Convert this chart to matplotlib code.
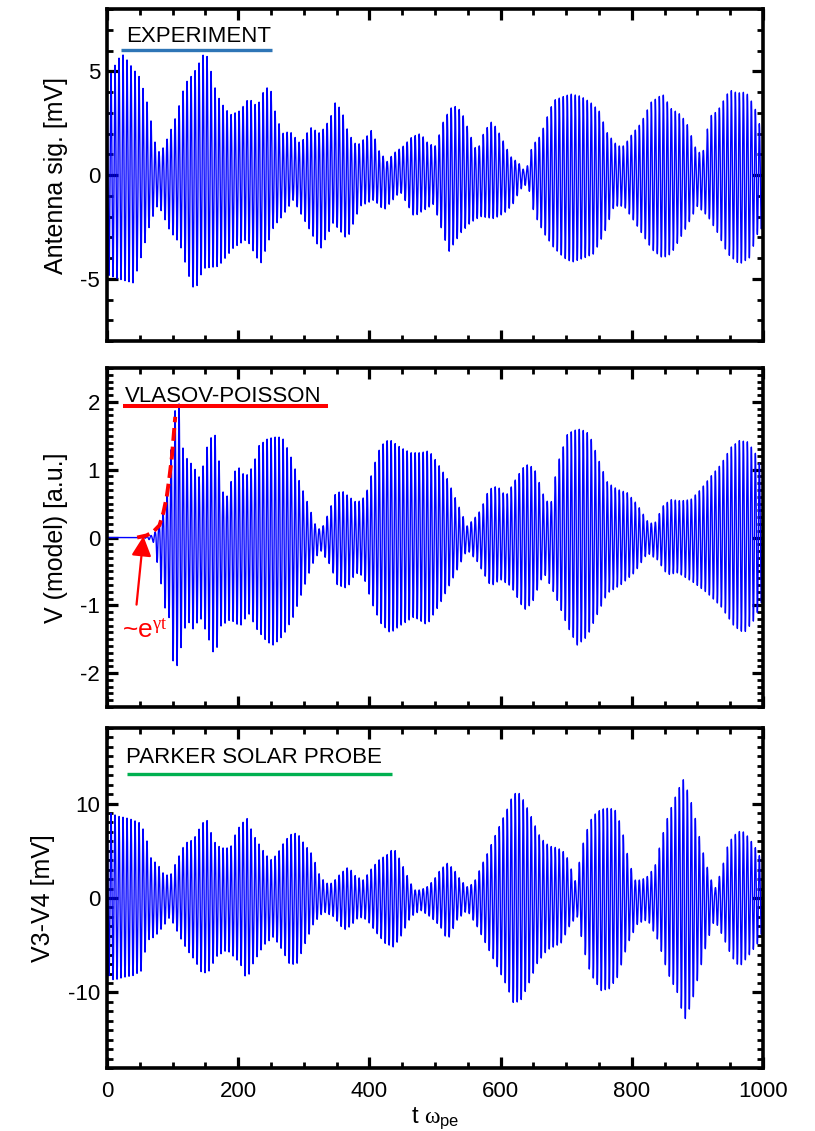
import numpy as np
import matplotlib
matplotlib.use('Agg')
import matplotlib.pyplot as plt
from matplotlib.ticker import MultipleLocator

plt.rcParams['font.family'] = 'Liberation Sans'
plt.rcParams['axes.unicode_minus'] = False
plt.rcParams['mathtext.fontset'] = 'custom'
plt.rcParams['mathtext.rm'] = 'Liberation Sans'
plt.rcParams['mathtext.it'] = 'Liberation Serif'

####################################################################
# envelope peaks (t in units of 1/w_pe)
omega = 1.03   # carrier, one wave every ~6.1 t-units

# experiment (antenna signal, mV)
exp_up_t = [0, 17, 25, 38, 50, 63, 73, 81, 94, 106, 119, 132, 142, 150, 157, 167, 178, 188, 203, 216,
            229, 241, 249, 256, 267, 279, 295, 310, 325, 340, 348, 358, 368, 381, 397, 404, 414, 427, 437, 452,
            465, 478, 490, 501, 514, 526, 534, 544, 554, 564, 575, 587, 600, 615, 630, 638, 648, 661, 671, 681,
            697, 707, 722, 737, 750, 763, 778, 788, 801, 814, 829, 847, 860, 875, 885, 900, 910, 918, 931, 949,
            961, 974, 987, 995, 1000]
exp_up_v = [4.5, 5.6, 5.8, 5.2, 4.7, 3.3, 1.6, 1.0, 1.9, 2.9, 4.4, 4.9, 5.5, 6.0, 5.2, 3.9, 3.3, 2.9, 3.1, 3.7,
            3.3, 4.2, 4.2, 3.1, 2.0, 2.1, 1.5, 2.3, 2.0, 2.7, 3.5, 3.1, 2.0, 1.4, 1.9, 2.2, 1.2, 0.65, 1.05, 1.4,
            1.85, 2.0, 1.5, 1.4, 2.7, 3.3, 3.3, 2.8, 1.9, 1.1, 2.1, 2.6, 1.9, 0.9, 0.5, 0.1, 1.4, 1.9, 2.8, 3.6,
            3.8, 3.9, 3.8, 3.5, 3.1, 2.0, 1.4, 1.4, 2.0, 2.5, 3.5, 3.9, 3.2, 2.9, 2.4, 1.05, 1.2, 2.8, 3.1, 4.1,
            3.95, 4.0, 3.3, 2.4, 2.2]
exp_lo_t = [0, 17, 40, 50, 66, 78, 96, 111, 127, 134, 147, 170, 193, 213, 234, 254, 267, 284, 310, 325,
            345, 366, 386, 407, 422, 447, 468, 498, 521, 539, 554, 569, 590, 605, 618, 630, 641, 651, 666, 681,
            697, 709, 727, 742, 758, 773, 788, 803, 819, 831, 847, 860, 880, 900, 916, 931, 946, 964, 979, 992,
            1000]
exp_lo_v = [-4.8, -5.0, -5.2, -4.2, -2.3, -1.4, -2.7, -3.3, -5.1, -5.6, -4.5, -4.4, -3.5, -3.1, -4.3, -2.5, -2.0, -1.2, -2.7, -3.6,
            -2.3, -3.1, -1.5, -1.2, -1.7, -0.8, -2.0, -1.4, -3.7, -2.8, -2.3, -2.0, -2.1, -1.85, -1.45, -0.7, -0.4, -1.85, -2.8, -3.5,
            -4.0, -4.2, -4.0, -3.8, -2.8, -1.5, -1.5, -2.2, -3.0, -3.6, -4.0, -3.8, -2.7, -1.5, -2.0, -2.8, -3.8, -4.3, -4.0, -2.8,
            -2.5]

# vlasov-poisson model (a.u.)
vp_up_t = [0, 55, 71, 78, 86, 94, 101, 106, 111, 116, 124, 132, 139, 147, 155, 167, 175, 183, 193, 201,
           211, 223, 231, 244, 254, 267, 279, 292, 302, 313, 320, 328, 338, 348, 358, 368, 381, 394, 407, 417,
           430, 447, 463, 478, 491, 503, 519, 534, 549, 559, 570, 582, 595, 608, 626, 638, 651, 666, 676, 686,
           702, 712, 722, 735, 750, 763, 778, 793, 808, 824, 834, 847, 859, 875, 890, 905, 921, 936, 951, 964,
           977, 989, 1000]
vp_up_v = [0, 0, 0.04, 0.17, 0.37, 0.8, 1.75, 1.97, 1.97, 1.3, 1.12, 1.07, 0.86, 1.07, 1.45, 1.52, 0.69, 0.61, 0.96, 1.03,
           0.89, 1.06, 1.35, 1.45, 1.48, 1.48, 1.23, 0.86, 0.61, 0.32, 0.12, 0.14, 0.37, 0.64, 0.69, 0.61, 0.51, 0.61, 1.06, 1.35,
           1.45, 1.33, 1.25, 1.25, 1.28, 1.11, 0.86, 0.51, 0.17, 0.27, 0.41, 0.71, 0.76, 0.61, 0.91, 1.08, 1.03, 0.61, 0.46, 1.06,
           1.53, 1.58, 1.6, 1.53, 1.13, 0.81, 0.71, 0.66, 0.49, 0.24, 0.19, 0.46, 0.56, 0.54, 0.56, 0.71, 0.91, 1.08, 1.33, 1.43,
           1.41, 1.23, 0.95]
vp_lo_t = [0, 55, 70, 81, 89, 96, 101, 109, 114, 122, 132, 142, 152, 165, 173, 188, 203, 216, 229, 244,
           254, 269, 284, 297, 312, 325, 341, 351, 366, 379, 391, 404, 417, 432, 447, 468, 488, 508, 529, 549,
           564, 585, 600, 616, 636, 648, 666, 684, 702, 717, 732, 748, 763, 783, 804, 824, 839, 854, 870, 895,
           915, 936, 956, 971, 987, 1000]
vp_lo_v = [0, 0, -0.05, -0.6, -1.07, -1.21, -1.86, -1.9, -1.54, -1.21, -1.36, -1.17, -1.41, -1.78, -1.31, -1.21, -1.31, -1.12, -1.36, -1.54,
           -1.59, -1.44, -1.17, -0.82, -0.42, -0.18, -0.42, -0.7, -0.75, -0.52, -0.57, -0.97, -1.26, -1.41, -1.3, -1.17, -1.29, -0.97, -0.57, -0.18,
           -0.35, -0.72, -0.62, -0.72, -1.07, -0.97, -0.52, -0.87, -1.31, -1.59, -1.46, -1.12, -0.82, -0.7, -0.52, -0.23, -0.33, -0.55, -0.52, -0.67,
           -0.82, -1.02, -1.31, -1.41, -1.21, -0.9]

# exponential growth guide
gr_t = [46, 60, 70, 80, 86, 91, 95, 99, 102, 104]
gr_v = [0.0, 0.03, 0.08, 0.18, 0.37, 0.6, 0.88, 1.2, 1.55, 1.78]

# parker solar probe (V3-V4, mV)
psp_up_t = [0, 5, 17, 28, 38, 50, 58, 68, 76, 86, 96, 106, 119, 132, 145, 152, 163, 173, 188, 198,
            213, 223, 239, 249, 259, 269, 279, 290, 300, 313, 323, 333, 343, 356, 368, 379, 391, 402, 414, 427,
            437, 447, 458, 468, 478, 488, 498, 508, 519, 529, 539, 549, 559, 570, 580, 590, 600, 610, 618, 626,
            633, 643, 651, 661, 674, 687, 699, 710, 715, 722, 730, 740, 753, 763, 774, 784, 794, 804, 814, 824,
            835, 845, 855, 868, 878, 888, 896, 906, 916, 926, 937, 947, 957, 967, 977, 987, 995, 1000]
psp_up_v = [8.0, 9.0, 8.65, 8.5, 8.3, 7.95, 6.9, 4.0, 3.7, 2.6, 2.3, 3.9, 5.8, 6.2, 7.9, 8.3, 6.0, 5.3, 5.3, 7.2,
            8.5, 6.7, 4.9, 4.0, 4.6, 5.8, 6.7, 6.9, 5.8, 4.6, 2.6, 1.56, 1.56, 2.6, 3.3, 2.3, 1.9, 3.0, 4.0, 4.6,
            5.3, 4.0, 2.3, 0.85, 0.85, 1.2, 1.9, 3.0, 3.7, 3.0, 1.9, 1.2, 1.56, 3.3, 4.75, 6.35, 7.9, 9.4, 10.8, 11.3,
            10.6, 9.2, 7.9, 6.35, 5.5, 5.3, 4.75, 2.6, 1.56, 4.75, 6.9, 8.65, 9.4, 9.5, 9.4, 7.6, 4.4, 1.9, 1.9, 2.3,
            3.3, 6.2, 8.65, 11.0, 12.6, 10.8, 8.65, 5.5, 3.0, 0.85, 3.0, 5.8, 6.7, 7.2, 6.5, 5.5, 4.4, 3.0]
psp_lo_t = [0, 10, 25, 40, 53, 61, 73, 86, 96, 111, 122, 134, 145, 155, 167, 183, 203, 213, 223, 239,
            254, 267, 279, 290, 302, 315, 330, 346, 361, 371, 384, 396, 412, 424, 437, 447, 463, 478, 493, 508,
            519, 534, 549, 564, 580, 595, 610, 620, 631, 641, 656, 671, 692, 707, 717, 727, 737, 753, 766, 778,
            794, 809, 824, 840, 855, 870, 880, 891, 901, 914, 926, 939, 952, 964, 977, 992, 1000]
psp_lo_v = [-8.0, -8.7, -8.4, -8.2, -7.7, -4.5, -4.1, -3.0, -2.0, -4.1, -5.5, -6.6, -8.0, -7.8, -6.2, -5.5, -6.9, -8.7, -6.9, -5.0,
            -4.1, -5.5, -7.1, -6.9, -4.8, -2.7, -1.45, -2.0, -3.4, -3.0, -2.0, -2.3, -3.8, -4.8, -5.2, -4.2, -2.0, -1.3, -2.0, -3.0,
            -4.5, -2.3, -1.3, -3.0, -5.2, -7.3, -9.4, -11.2, -10.8, -9.4, -6.9, -5.5, -4.8, -2.7, -2.0, -5.5, -8.0, -9.8, -9.6, -8.4,
            -4.8, -2.7, -2.3, -4.5, -8.0, -10.1, -13.0, -11.2, -8.4, -4.8, -2.3, -4.1, -6.2, -7.3, -6.2, -4.8, -3.4]

####################################################################
t = np.linspace(0, 1000, 40001)
carrier = np.cos(omega * t)

def trace(up_t, up_v, lo_t, lo_v):
    up = np.interp(t, up_t, up_v)
    lo = -np.interp(t, lo_t, lo_v)
    return carrier * np.where(carrier >= 0, up, lo)

def style(ax, ylim, major, minor):
    ax.set_xlim(0, 1000)
    ax.set_ylim(ylim)
    ax.xaxis.set_major_locator(MultipleLocator(200))
    ax.xaxis.set_minor_locator(MultipleLocator(50))
    ax.yaxis.set_major_locator(MultipleLocator(major))
    ax.yaxis.set_minor_locator(MultipleLocator(minor))
    for sp in ax.spines.values():
        sp.set_linewidth(2.6)
    ax.tick_params(which='both', direction='in', top=True, right=True, labelsize=16)
    ax.tick_params(which='major', length=8, width=2.3)
    ax.tick_params(which='minor', length=4, width=2.0)
    ax.tick_params(axis='y', pad=5)
    ax.tick_params(axis='x', pad=9)

fig = plt.figure(figsize=(8.15, 11.31), dpi=100)
left, width = 0.1313, 0.805
ax1 = fig.add_axes([left, 0.6985, width, 0.2935])
ax2 = fig.add_axes([left, 0.3749, width, 0.2997])
ax3 = fig.add_axes([left, 0.0557, width, 0.3006])

sig_lw = 1.0

#########################  experiment  #############################
ax1.plot(t, trace(exp_up_t, exp_up_v, exp_lo_t, exp_lo_v), color='#0000ff', lw=sig_lw)
style(ax1, (-8, 8), 5, 1)
ax1.tick_params(labelbottom=False)
ax1.set_ylabel('Antenna sig. [mV]', fontsize=18, labelpad=9)
ax1.text(29, 6.4, 'EXPERIMENT', fontsize=16, va='baseline')
ax1.plot([21, 251], [6.04, 6.04], color='#2e75b6', lw=2.4, solid_capstyle='butt')

#########################  vlasov  #################################
ax2.plot(t, trace(vp_up_t, vp_up_v, vp_lo_t, vp_lo_v), color='#0000ff', lw=sig_lw)
ax2.plot(gr_t, gr_v, color='red', lw=2.8, ls=(0, (3.3, 1.5)))
style(ax2, (-2.5, 2.5), 1, 0.1)
ax2.tick_params(labelbottom=False)
ax2.set_ylabel('V (model) [a.u.]', fontsize=18, labelpad=9)
ax2.text(27.5, 2.0, 'VLASOV-POISSON', fontsize=16, va='baseline')
ax2.plot([24, 337], [1.94, 1.94], color='red', lw=2.9, solid_capstyle='butt')
ax2.annotate('', xy=(55.5, 0.02), xytext=(45, -0.99),
             arrowprops=dict(arrowstyle='-|>,head_length=0.6,head_width=0.3', color='red',
                             lw=1.6, mutation_scale=20, shrinkA=0, shrinkB=0))
ax2.text(23, -1.47, r'~e$^{\gamma t}$', fontsize=19, color='red', va='baseline')

#########################  parker solar probe  #####################
ax3.plot(t, trace(psp_up_t, psp_up_v, psp_lo_t, psp_lo_v), color='#0000ff', lw=sig_lw)
style(ax3, (-18, 18), 10, 1)
ax3.set_ylabel('V3-V4 [mV]', fontsize=18, labelpad=9)
ax3.set_xlabel(r't $\omega_{\rm pe}$', fontsize=17, labelpad=3)
ax3.text(29, 14.3, 'PARKER SOLAR PROBE', fontsize=16, va='baseline')
ax3.plot([31, 435], [13.15, 13.15], color='#00b050', lw=2.4, solid_capstyle='butt')

plt.savefig('out.png', dpi=100)
